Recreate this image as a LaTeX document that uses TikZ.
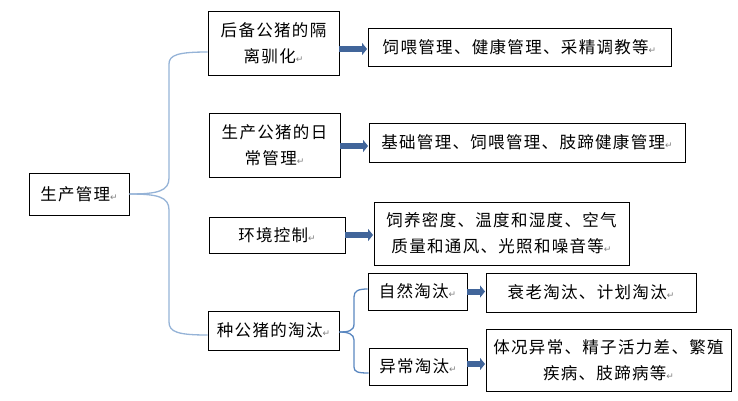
\documentclass[tikz,border=0pt]{standalone}
\usepackage{fontspec}
\setmainfont[LetterSpace=8]{Noto Sans CJK SC}
\newfontfamily\markfont{DejaVu Sans}
\usetikzlibrary{arrows.meta}
\definecolor{bracelight}{HTML}{95B3D7}
\definecolor{bracedark}{HTML}{5A87C0}
\definecolor{arrowblue}{HTML}{41659A}
\newcommand{\pmark}{{\markfont\fontsize{9}{9}\selectfont\textcolor{gray}{↵}}}

\begin{document}
\begin{tikzpicture}[
    x=1pt, y=-1pt,
    every node/.style={align=center, font=\fontsize{16.5}{26}\selectfont},
    box/.style={draw, line width=0.9pt, rectangle, inner sep=0pt},
    brace/.style={line width=1.3pt},
    fat_arrow/.style={-{Triangle[length=5pt, width=12pt]}, line width=6pt, arrowblue, shorten >=0.5pt}
]
\useasboundingbox (0,0) rectangle (738,400);

% Root
\node[box, minimum width=100pt, minimum height=42pt] (prod) at (79,194) {生产管理\pmark};

% Second level
\node[box, minimum width=131pt, minimum height=64pt] (spare) at (273.5,43) {后备公猪的隔\\离驯化\pmark};
\node[box, minimum width=131pt, minimum height=64pt] (daily) at (274.5,145) {生产公猪的日\\常管理\pmark};
\node[box, minimum width=136pt, minimum height=36pt] (env) at (277,235) {环境控制\pmark};
\node[box, minimum width=131pt, minimum height=39pt] (cull) at (273.5,330.5) {种公猪的淘汰\pmark};

% Third level
\node[box, minimum width=303pt, minimum height=38pt] (spare_r) at (519.5,47) {饲喂管理、健康管理、采精调教等\pmark};
\node[box, minimum width=316pt, minimum height=39pt] (daily_r) at (527,142.5) {基础管理、饲喂管理、肢蹄健康管理\pmark};
\node[box, minimum width=255pt, minimum height=63pt] (env_r) at (501.5,233.5) {饲养密度、温度和湿度、空气\\质量和通风、光照和噪音等\pmark};
\node[box, minimum width=99pt, minimum height=37pt] (natural) at (417.5,291.5) {自然淘汰\pmark};
\node[box, minimum width=98pt, minimum height=37pt] (abnormal) at (418,366.5) {异常淘汰\pmark};

% Fourth level
\node[box, minimum width=210pt, minimum height=39pt] (natural_r) at (591,292.5) {衰老淘汰、计划淘汰\pmark};
\node[box, minimum width=245pt, minimum height=62pt] (abnormal_r) at (608.5,360) {体况异常、精子活力差、繁殖\\疾病、肢蹄病等\pmark};

% Braces
\draw[brace, bracelight] (prod.east) .. controls (158,194) and (169,191) .. (169,178)
    -- (169,64) .. controls (169,55) and (178,52) .. ([yshift=-9pt]spare.west);
\draw[brace, bracelight] (prod.east) .. controls (158,194) and (169,197) .. (169,210)
    -- (169,322) .. controls (169,332) and (178,335) .. ([yshift=-4.5pt]cull.west);
\draw[brace, bracedark] ([yshift=-1.5pt]cull.east) .. controls (348,332) and (354,331) .. (354,324)
    -- (354,297) .. controls (354,291) and (358,289) .. ([yshift=2.5pt]natural.west);
\draw[brace, bracedark] ([yshift=-1.5pt]cull.east) .. controls (348,332) and (354,334) .. (354,340)
    -- (354,367) .. controls (354,372) and (358,373) .. ([yshift=-6.5pt]abnormal.west);

% Thick arrows
\draw[fat_arrow] (spare.east |- 0,49) -- (spare_r.west |- 0,49);
\draw[fat_arrow] (daily.east |- 0,146) -- (daily_r.west |- 0,146);
\draw[fat_arrow] (env.east) -- (env.east -| env_r.west);
\draw[fat_arrow] (natural.east) -- (natural.east -| natural_r.west);
\draw[fat_arrow] (abnormal.east |- 0,364) -- (abnormal_r.west |- 0,364);

\end{tikzpicture}
\end{document}
